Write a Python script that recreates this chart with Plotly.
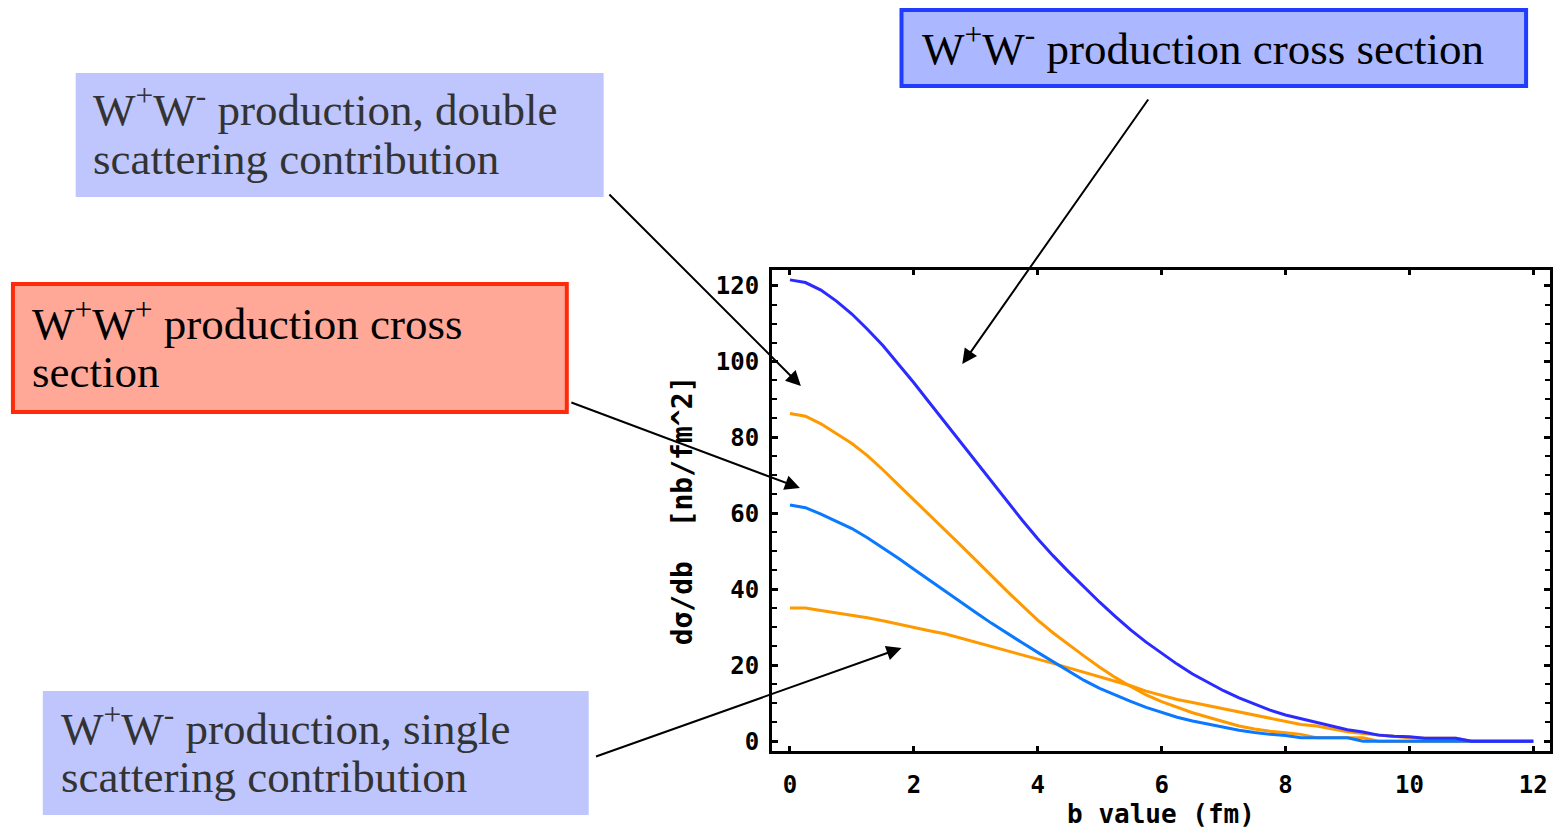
import plotly.graph_objects as go

# ---------------- data ----------------
b_fm = [0.0, 0.25, 0.5, 0.75, 1.0, 1.25, 1.5, 1.75, 2.0, 2.25, 2.5, 2.75,
        3.0, 3.25, 3.5, 3.75, 4.0, 4.25, 4.5, 4.75, 5.0, 5.25, 5.5, 5.75,
        6.0, 6.25, 6.5, 6.75, 7.0, 7.25, 7.5, 7.75, 8.0, 8.25, 8.5, 8.75,
        9.0, 9.25, 9.5, 9.75, 10.0, 10.25, 10.5, 10.75, 11.0, 11.25, 11.5,
        11.75, 12.0]

# W+W- total production cross section (dark blue)
ww_total = [121.5, 120.8, 118.8, 115.9, 112.5, 108.5, 104.2, 99.4, 94.4, 89.2,
            84.0, 78.8, 73.6, 68.4, 63.3, 58.2, 53.3, 48.8, 44.6, 40.6, 36.6,
            32.9, 29.3, 26.1, 23.1, 20.3, 17.7, 15.4, 13.3, 11.4, 9.7, 8.2,
            6.9, 5.9, 4.8, 4.0, 3.0, 2.4, 1.6, 1.3, 1.2, 0.8, 0.8, 0.8, 0.0,
            0.0, 0.0, 0.0, 0.0]

# W+W- double scattering contribution (orange, upper)
ww_double = [86.3, 85.6, 83.6, 81.1, 78.4, 75.2, 71.5, 67.5, 63.6, 59.7,
             55.7, 51.7, 47.7, 43.6, 39.6, 35.7, 31.9, 28.5, 25.4, 22.4, 19.5,
             16.8, 14.4, 12.2, 10.4, 8.9, 7.5, 6.3, 5.1, 4.0, 3.2, 2.6, 2.2,
             1.8, 0.9, 0.9, 0.9, 0.9, 0.0, 0.0, 0.0, 0.0, 0.0, 0.0, 0.0, 0.0,
             0.0, 0.0, 0.0]

# W+W- single scattering contribution (orange, lower)
ww_single = [35.1, 35.1, 34.4, 33.8, 33.2, 32.5, 31.7, 30.8, 29.9, 29.1,
             28.3, 27.2, 26.2, 25.1, 23.9, 22.9, 21.7, 20.5, 19.3, 18.1, 17.0,
             15.9, 14.6, 13.2, 12.0, 11.0, 10.2, 9.4, 8.6, 7.8, 7.0, 6.1, 5.2,
             4.4, 4.0, 3.2, 2.5, 2.0, 1.6, 1.2, 0.9, 0.8, 0.8, 0.8, 0.0, 0.0,
             0.0, 0.0, 0.0]

# W+W+ production cross section (light blue)
wpwp = [62.2, 61.5, 59.8, 58.0, 56.0, 53.6, 51.0, 48.2, 45.3, 42.4, 39.5,
        36.7, 33.9, 31.1, 28.4, 25.9, 23.4, 20.9, 18.4, 16.0, 13.9, 12.1,
        10.5, 8.9, 7.5, 6.3, 5.3, 4.5, 3.8, 2.9, 2.3, 1.8, 1.5, 0.9, 0.9,
        0.9, 0.9, 0.0, 0.0, 0.0, 0.0, 0.0, 0.0, 0.0, 0.0, 0.0, 0.0, 0.0, 0.0]

x_ticks = [0, 2, 4, 6, 8, 10, 12]
y_ticks = [0, 20, 40, 60, 80, 100, 120]

# ---------------- layout geometry ----------------
W, H = 1555, 829
L, R, T, B = 772, 1553, 270, 751


def px(x):
    return (x - L) / (R - L)


def py(y):
    return (B - y) / (B - T)


ORANGE = "#FF9900"
DBLUE = "#2B2BFF"
LBLUE = "#0A78FF"

fig = go.Figure()
fig.add_trace(go.Scatter(x=b_fm, y=ww_single, mode="lines",
                         line=dict(color=ORANGE, width=3), name="single"))
fig.add_trace(go.Scatter(x=b_fm, y=ww_double, mode="lines",
                         line=dict(color=ORANGE, width=3), name="double"))
fig.add_trace(go.Scatter(x=b_fm, y=wpwp, mode="lines",
                         line=dict(color=LBLUE, width=3), name="W+W+"))
fig.add_trace(go.Scatter(x=b_fm, y=ww_total, mode="lines",
                         line=dict(color=DBLUE, width=3), name="W+W- total"))

mono = dict(family="DejaVu Sans Mono", size=24, color="black", weight="bold")
mono_t = dict(family="DejaVu Sans Mono", size=26, color="black", weight="bold")

fig.update_layout(
    width=W, height=H,
    margin=dict(l=L, r=W - R, t=T, b=H - B, pad=0),
    paper_bgcolor="white", plot_bgcolor="white",
    showlegend=False,
    xaxis=dict(range=[-0.29, 12.27], tickvals=x_ticks, ticktext=[str(v) for v in x_ticks],
               ticks="inside", ticklen=5, tickwidth=3, tickcolor="black",
               showline=True, linewidth=3, linecolor="black", mirror="ticks",
               showgrid=False, zeroline=False, tickfont=mono,
               ticklabelstandoff=10,
               title=dict(text="b value (fm)", font=mono_t, standoff=8)),
    yaxis=dict(range=[-2.58, 124.1], tickvals=y_ticks, ticktext=[str(v) for v in y_ticks],
               ticks="inside", ticklen=6, tickwidth=3, tickcolor="black",
               minor=dict(dtick=5, ticks="inside", ticklen=5, tickwidth=2, tickcolor="black"),
               showline=True, linewidth=3, linecolor="black", mirror="ticks",
               showgrid=False, zeroline=False, tickfont=mono,
               ticklabelstandoff=5,
               title=dict(text="dσ/db  [nb/fm^2]", font=dict(family="DejaVu Sans Mono", size=28,
                                                          color="black", weight="bold"),
                          standoff=16)),
)

# ---------------- boxes ----------------
boxes = [
    dict(x0=902, y0=10, x1=1529, y1=86, fill="#ABB7FE", line="#1F3CFF", lw=4),
    dict(x0=73, y0=73, x1=603, y1=197, fill="#BEC6FD", line=None, lw=0),
    dict(x0=10, y0=284, x1=566, y1=412, fill="#FFA898", line="#FF2A0A", lw=4),
    dict(x0=40, y0=691, x1=588, y1=815, fill="#BEC6FD", line=None, lw=0),
]
for bx in boxes:
    fig.add_shape(type="rect", xref="paper", yref="paper",
                  x0=px(bx["x0"]), x1=px(bx["x1"]), y0=py(bx["y1"]), y1=py(bx["y0"]),
                  fillcolor=bx["fill"],
                  line=dict(color=bx["line"] if bx["line"] else bx["fill"], width=bx["lw"]),
                  layer="above")

serif_k = dict(family="Liberation Serif", size=45, color="black")
serif_g = dict(family="Liberation Serif", size=45, color="#333333")
labels = [
    ("W<sup>+</sup>W<sup>-</sup> production cross section", 921, 45, serif_k),
    ("W<sup>+</sup>W<sup>-</sup> production, double", 88, 106, serif_g),
    ("scattering contribution", 88, 159, serif_g),
    ("W<sup>+</sup>W<sup>+</sup> production cross", 27, 320, serif_k),
    ("section", 27, 372, serif_k),
    ("W<sup>+</sup>W<sup>-</sup> production, single", 56, 725, serif_g),
    ("scattering contribution", 56, 777, serif_g),
]
for txt, x, y, f in labels:
    fig.add_annotation(text=txt, xref="paper", yref="paper", x=px(x), y=py(y),
                       xanchor="left", yanchor="middle", showarrow=False, font=f)

# ---------------- arrows ----------------
arrows = [
    ((608, 193), (801, 386)),
    ((570, 402), (800, 488)),
    ((1150, 98), (963, 364)),
    ((595, 757), (902, 648)),
]
for (tx, ty), (hx, hy) in arrows:
    fig.add_annotation(text="", xref="paper", yref="paper", x=px(hx), y=py(hy),
                       ax=tx - hx, ay=ty - hy, axref="pixel", ayref="pixel",
                       showarrow=True, arrowhead=2, arrowsize=1.5, arrowwidth=2,
                       arrowcolor="black")

fig.write_html("out.html")
